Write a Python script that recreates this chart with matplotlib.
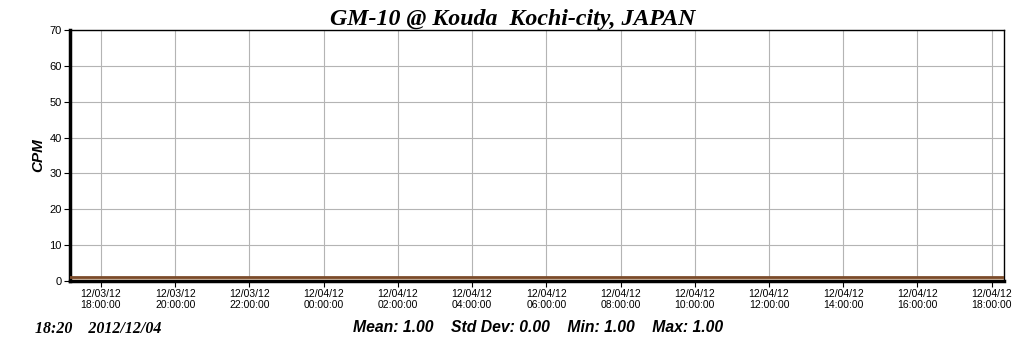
import matplotlib
matplotlib.use("Agg")
import matplotlib.pyplot as plt
import matplotlib.dates as mdates
import pandas as pd

# Data
times = ["2012-12-03 17:10", "2012-12-03 19:00", "2012-12-03 21:00", "2012-12-03 23:00",
         "2012-12-04 01:00", "2012-12-04 03:00", "2012-12-04 05:00", "2012-12-04 07:00",
         "2012-12-04 09:00", "2012-12-04 11:00", "2012-12-04 13:00", "2012-12-04 15:00",
         "2012-12-04 17:00", "2012-12-04 18:20"]
cpm = [1.0, 1.0, 1.0, 1.0, 1.0, 1.0, 1.0, 1.0, 1.0, 1.0, 1.0, 1.0, 1.0, 1.0]
tick_times = ["2012-12-03 18:00", "2012-12-03 20:00", "2012-12-03 22:00", "2012-12-04 00:00",
              "2012-12-04 02:00", "2012-12-04 04:00", "2012-12-04 06:00", "2012-12-04 08:00",
              "2012-12-04 10:00", "2012-12-04 12:00", "2012-12-04 14:00", "2012-12-04 16:00",
              "2012-12-04 18:00"]
y_ticks = [0, 10, 20, 30, 40, 50, 60, 70]
title = "GM-10 @ Kouda  Kochi-city, JAPAN"
stamp = "18:20    2012/12/04"
stats = "Mean: 1.00    Std Dev: 0.00    Min: 1.00    Max: 1.00"

t = pd.to_datetime(times)
tt = pd.to_datetime(tick_times)

fig = plt.figure(figsize=(10.24, 3.51), dpi=100)
ax = fig.add_axes([70/1024, 1 - 281/351, (1004-70)/1024, (281-30)/351])

ax.fill_between(t, 0, cpm, color="#f6dcc4", linewidth=0, zorder=2)
ax.plot(t, cpm, color="#7b4b2a", linewidth=2, zorder=3)

ax.set_xlim(t[0], t[-1])
ax.set_ylim(0, 70)
ax.set_yticks(y_ticks)
ax.set_xticks(tt)
ax.set_xticklabels([d.strftime("%m/%d/%y\n%H:%M:%S") for d in tt],
                   fontsize=7.5, family="Liberation Sans", linespacing=1.1)
ax.set_yticklabels([str(v) for v in y_ticks], fontsize=8, family="Liberation Sans")
ax.grid(True, color="#b4b4b4", linewidth=0.8)
ax.set_axisbelow(True)
ax.tick_params(direction="out", length=4, width=0.8, colors="black", pad=2)

for s in ["top", "right"]:
    ax.spines[s].set_linewidth(1.0)
for s in ["left", "bottom"]:
    ax.spines[s].set_linewidth(2.5)

ax.set_ylabel("CPM", fontsize=11, fontweight="bold", fontstyle="italic",
              family="Liberation Sans", labelpad=3)

fig.text(513/1024, 1 - 19/351, title, ha="center", va="center", fontsize=17.2,
         fontweight="bold", fontstyle="italic", family="Liberation Serif")
fig.text(35/1024, 1 - 329/351, stamp, ha="left", va="center", fontsize=11.5,
         fontweight="bold", fontstyle="italic", family="Liberation Serif")
fig.text(538/1024, 1 - 327/351, stats, ha="center", va="center", fontsize=11.3,
         fontweight="bold", fontstyle="italic", family="Liberation Sans")

fig.savefig("out.png", dpi=100)
